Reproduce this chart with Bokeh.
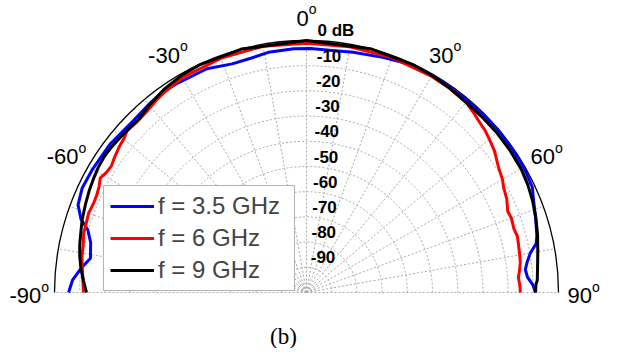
import numpy as np
from bokeh.plotting import figure
from bokeh.models import Range1d, Legend, LegendItem, ColumnDataSource, Label
from bokeh.core.properties import value
from bokeh.embed import file_html
from bokeh.resources import INLINE

# ---------------- data (angle in degrees from broadside, level in dB) ----------------
ang_35 = [-90, -87, -84, -81, -77, -74, -72, -69, -65, -60, -53, -45, -40, -36, -32, -29, -24, -18, -13, -9,
          -3, 1, 6, 11, 18, 23, 27, 33, 40, 45, 50, 55, 60, 65, 68, 72, 76, 78, 80, 82, 84, 86, 88, 90]
db_35 = [-5.6, -7.0, -9.9, -13.2, -12.1, -9.7, -5.9, -2.9, -1.8, -2.0, -2.3, -3.2, -2.6, -2.1, -2.4, -2.8, -2.8, -4.6, -4.4, -3.5,
         -3.1, -3.2, -3.4, -2.9, -1.9, -1.0, -0.4, -0.5, -0.6, -0.5, -0.3, -0.4, -0.5, -1.1, -2.8, -4.4, -5.8, -6.8, -9.8, -11.5,
         -12.7, -12.1, -10.2, -9.1]

ang_6 = [-90, -85, -81, -78, -75, -72, -70, -67, -65, -63, -61, -59, -57, -55, -52, -50, -48, -45, -41, -38,
         -35, -30, -20, -10, 0, 10, 20, 30, 35, 40, 43, 45, 48, 50, 53, 57, 60, 62, 65, 68,
         70, 73, 75, 77, 80, 82, 84, 86, 88, 90]
db_6 = [-11.5, -10.8, -9.8, -9.4, -8.5, -8.3, -8.0, -8.4, -8.2, -7.6, -6.4, -7.4, -7.7, -6.9, -5.8, -5.3, -4.2, -4.6, -4.1, -3.2,
        -2.5, -1.5, -1.0, -0.8, -1.1, -1.0, -0.8, -0.9, -1.1, -1.5, -2.6, -3.5, -4.4, -5.3, -6.6, -9.1, -10.2, -11.4, -12.3, -13.9,
        -13.5, -13.9, -13.4, -13.7, -14.1, -14.3, -15.0, -15.7, -15.3, -15.1]

ang_9 = [-90, -87, -84, -81, -78, -75, -72, -68, -65, -62, -59, -56, -53, -50, -47, -44, -40, -35, -30, -25,
         -15, 0, 15, 25, 30, 35, 40, 45, 50, 55, 60, 64, 68, 72, 76, 80, 83, 85, 87, 88, 90]
db_9 = [-12.7, -11.4, -10.0, -8.9, -8.0, -7.3, -6.4, -5.5, -4.8, -4.2, -3.6, -3.3, -3.5, -3.9, -4.1, -4.3, -3.0, -1.5, -0.6, -0.2,
        0.0, 0.0, 0.0, -0.2, -0.5, -1.0, -1.5, -1.5, -1.4, -1.5, -1.7, -2.3, -3.2, -4.3, -5.5, -6.8, -7.6, -8.0, -8.3, -8.9, -9.1]

series_names = ["f = 3.5 GHz", "f = 6 GHz", "f = 9 GHz"]
series_colors = ["#0000ff", "#ff0000", "#000000"]
ring_levels = [0, -10, -20, -30, -40, -50, -60, -70, -80, -90]
ring_labels = ["0 dB", "-10", "-20", "-30", "-40", "-50", "-60", "-70", "-80", "-90"]
angle_ticks = [-90, -60, -30, 0, 30, 60, 90]
angle_tick_labels = ["-90", "-60", "-30", "0", "30", "60", "90"]
spoke_angles = list(range(-90, 91, 10))
DB_FLOOR = -100
caption = "(b)"

# ---------------- layout ----------------
W, H = 612, 348
PX = 2.52          # pixels per radial unit (dB)
CX, CY = 306, 56   # pole position in figure pixels (from left / from bottom)


def to_xy(ang, radius):
    t = np.radians(np.asarray(ang, float))
    r = np.asarray(radius, float)
    return r * np.sin(t), r * np.cos(t)


p = figure(width=W, height=H, output_backend="svg", toolbar_location=None,
           x_range=Range1d(-CX / PX, (W - CX) / PX), y_range=Range1d(-CY / PX, (H - CY) / PX),
           x_axis_location=None, y_axis_location=None, min_border=0,
           outline_line_color=None, background_fill_color="white", border_fill_color="white")
p.grid.visible = False

GRID = dict(line_color="#a8a8a8", line_width=1, line_dash="2 2")
R_OUT = 0 - DB_FLOOR
inner_r = [lv - DB_FLOOR for lv in ring_levels[1:]]
p.arc(x=[0] * len(inner_r), y=[0] * len(inner_r), radius=inner_r,
      start_angle=0, end_angle=np.pi, **GRID)
sx, sy = to_xy(spoke_angles, [R_OUT] * len(spoke_angles))
p.segment(x0=[0] * len(sx), y0=[0] * len(sx), x1=sx, y1=sy, **GRID)
p.arc(x=[0], y=[0], radius=[R_OUT], start_angle=0, end_angle=np.pi,
      line_color="black", line_width=1.3)

renderers = []
for ang, db, col in zip([ang_35, ang_6, ang_9], [db_35, db_6, db_9], series_colors):
    x, y = to_xy(ang, np.asarray(db, float) - DB_FLOOR)
    renderers.append(p.line(x, y, line_color=col, line_width=3, line_join="round"))

# angle labels with superscript "o"
FONT = "Liberation Sans"
FS_A, FS_O = 22, 14
o_w = 0.556 * FS_O


def tw(s, fs):
    return sum(0.333 if c == "-" else 0.556 for c in s) * fs


R_LAB = 110
ax, ay = to_xy(angle_ticks, [R_LAB] * len(angle_ticks))
asrc = ColumnDataSource(dict(
    x=ax, y=ay, t=angle_tick_labels,
    xo=[-o_w / 2] * len(angle_ticks),
    oxo=[tw(s, FS_A) / 2 - o_w / 2 for s in angle_tick_labels],
    o=["o"] * len(angle_ticks)))
p.text(x="x", y="y", text="t", x_offset="xo", y_offset=3, source=asrc,
       text_align="center", text_baseline="middle",
       text_font=value(FONT), text_font_size=f"{FS_A}px", text_color="black")
p.text(x="x", y="y", text="o", x_offset="oxo", y_offset=-6, source=asrc,
       text_align="left", text_baseline="middle",
       text_font=value(FONT), text_font_size=f"{FS_O}px", text_color="black")

# radial (dB) labels
rr = [lv - DB_FLOOR for lv in ring_levels]
rx, ry = to_xy([1.7] * len(rr), rr)
p.text(x=rx, y=ry, text=ring_labels, x_offset=3.5, y_offset=-10,
       text_align="left", text_baseline="middle",
       text_font=value(FONT), text_font_size="17px", text_font_style="bold",
       text_color="black")

legend = Legend(items=[LegendItem(label=n, renderers=[r]) for n, r in zip(series_names, renderers)],
                location=(103, 57), label_text_font=FONT, label_text_font_size="24px",
                glyph_width=44, glyph_height=26, label_height=26, label_width=130,
                spacing=4, padding=6, label_standoff=4, margin=0,
                border_line_color="#666666", border_line_width=1,
                background_fill_color="white", background_fill_alpha=1.0)
p.add_layout(legend)

p.add_layout(Label(x=-23 / PX, y=-44 / PX, text=caption, text_font="Liberation Serif",
                   text_font_size="23px", text_align="center", text_baseline="middle",
                   text_color="black"))

open("out.html", "w").write(file_html(p, INLINE))
